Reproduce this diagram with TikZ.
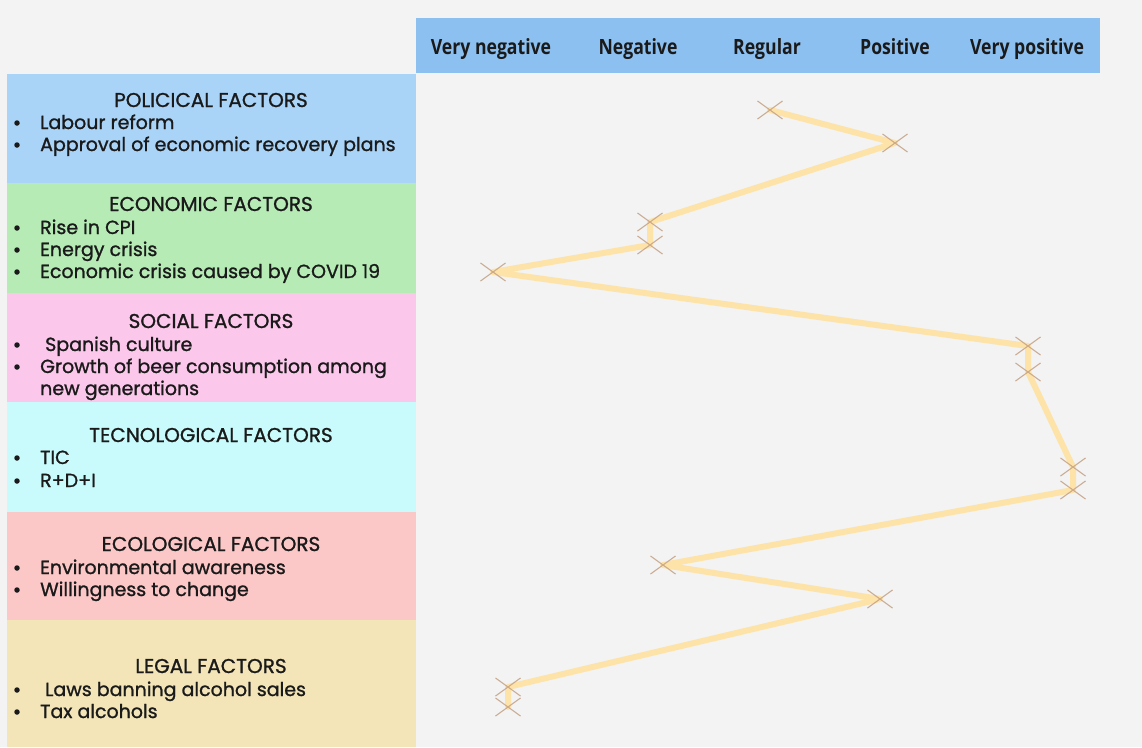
\documentclass[tikz,border=0pt]{standalone}
\usepackage{fontspec}
\setmainfont{Poppins}[FakeBold=1.1]
\newfontfamily\hdrfont[FakeStretch=0.84]{Open Sans}
\usetikzlibrary{shapes.misc}
\definecolor{bgc}{HTML}{F3F3F3}
\definecolor{hdrc}{HTML}{8CC0F0}
\definecolor{polc}{HTML}{A9D4F8}
\definecolor{ecoc}{HTML}{B6EBB6}
\definecolor{socc}{HTML}{FBC7EB}
\definecolor{tecc}{HTML}{C9FBFC}
\definecolor{eclc}{HTML}{FCC7C7}
\definecolor{legc}{HTML}{F3E5B8}
\definecolor{txtc}{HTML}{1A1A1A}
\definecolor{trail}{HTML}{FDE3A8}
\definecolor{markc}{HTML}{C4A186}
\tikzset{
  hdrlabel/.style={font=\hdrfont\bfseries\fontsize{21}{23}\selectfont, text=txtc, anchor=base, inner sep=0pt},
  title/.style={font=\fontsize{20}{22}\selectfont, text=txtc, anchor=base, inner sep=0pt},
  item/.style={font=\fontsize{19}{21}\selectfont, text=txtc, anchor=base west, inner sep=0pt},
  dot/.style={circle, fill=txtc, inner sep=0pt, minimum size=5.5pt},
  xmark/.style={cross out, draw=markc, line width=1.1pt, minimum width=24pt, minimum height=17pt, inner sep=0pt, opacity=0.85},
  trailline/.style={draw=trail, line width=6pt, line join=round, line cap=round}
}
\begin{document}
\begin{tikzpicture}[x=1pt, y=-1pt]
\useasboundingbox (0,0) rectangle (1142,747);
\fill[bgc] (0,0) rectangle (1142,747);

% header bar with the rating scale
\fill[hdrc] (416,18) rectangle (1100,73);
\node[hdrlabel] (h1) at (491,54) {Very negative};
\node[hdrlabel] (h2) at (638,54) {Negative};
\node[hdrlabel] (h3) at (767,54) {Regular};
\node[hdrlabel] (h4) at (895,54) {Positive};
\node[hdrlabel] (h5) at (1027,54) {Very positive};

% factor bands
\fill[polc] (7,74) rectangle (416,183);
\fill[ecoc] (7,183) rectangle (416,293);
\fill[socc] (7,293) rectangle (416,402);
\fill[tecc] (7,402) rectangle (416,512);
\fill[eclc] (7,512) rectangle (416,620);
\fill[legc] (7,620) rectangle (416,747);

% political
\node[title] (t1) at (211,107) {POLICICAL FACTORS};
\node[dot] (d11) at (17,123) {}; \node[item] (i11) at (40,129) {Labour reform};
\node[dot] (d12) at (17,145) {}; \node[item] (i12) at (40,151) {Approval of economic recovery plans};
% economic
\node[title] (t2) at (211,211) {ECONOMIC FACTORS};
\node[dot] (d21) at (17,228) {}; \node[item] (i21) at (40,234) {Rise in CPI};
\node[dot] (d22) at (17,250) {}; \node[item] (i22) at (40,256) {Energy crisis};
\node[dot] (d23) at (17,272) {}; \node[item] (i23) at (40,278) {Economic crisis caused by COVID 19};
% social
\node[title] (t3) at (211,328) {SOCIAL FACTORS};
\node[dot] (d31) at (17,345) {}; \node[item] (i31) at (45,351) {Spanish culture};
\node[dot] (d32) at (17,367) {}; \node[item] (i32) at (40,373) {Growth of beer consumption among};
\node[item] (i33) at (40,395) {new generations};
% technological
\node[title] (t4) at (211,442) {TECNOLOGICAL FACTORS};
\node[dot] (d41) at (17,458) {}; \node[item] (i41) at (40,464) {TIC};
\node[dot] (d42) at (17,481) {}; \node[item] (i42) at (40,487) {R+D+I};
% ecological
\node[title] (t5) at (211,551) {ECOLOGICAL FACTORS};
\node[dot] (d51) at (17,568) {}; \node[item] (i51) at (40,574) {Environmental awareness};
\node[dot] (d52) at (17,590) {}; \node[item] (i52) at (40,596) {Willingness to change};
% legal
\node[title] (t6) at (211,673) {LEGAL FACTORS};
\node[dot] (d61) at (17,690) {}; \node[item] (i61) at (45,696) {Laws banning alcohol sales};
\node[dot] (d62) at (17,712) {}; \node[item] (i62) at (40,718) {Tax alcohols};

% rating points
\coordinate (p1) at (770,110);
\coordinate (p2) at (895,143);
\coordinate (p3) at (650,222);
\coordinate (p4) at (650,245);
\coordinate (p5) at (493,272);
\coordinate (p6) at (1028,346);
\coordinate (p7) at (1028,372);
\coordinate (p8) at (1073,467);
\coordinate (p9) at (1073,490);
\coordinate (p10) at (663,565);
\coordinate (p11) at (880,599);
\coordinate (p12) at (508,687);
\coordinate (p13) at (508,707);

\draw[trailline] (p1) -- (p2) -- (p3) -- (p4) -- (p5) -- (p6) -- (p7) -- (p8) -- (p9) -- (p10) -- (p11) -- (p12) -- (p13);

\foreach \k in {1,...,13} \node[xmark] (x\k) at (p\k) {};
\end{tikzpicture}
\end{document}
